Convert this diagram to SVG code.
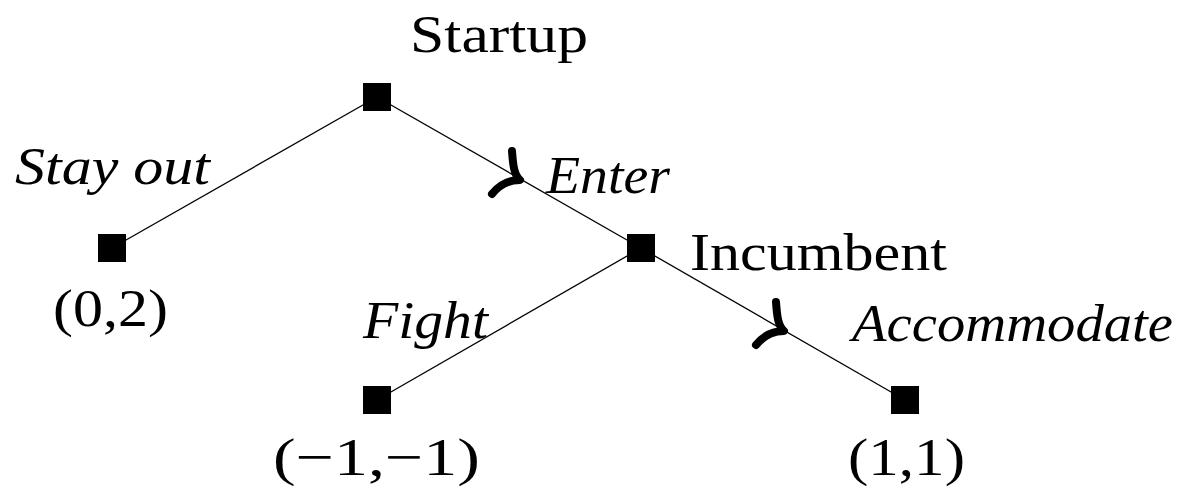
<svg xmlns="http://www.w3.org/2000/svg" width="1183" height="492" viewBox="0 0 1183 492">
<style>
.edge{stroke:#000;stroke-width:1.3;fill:none}
.mark{stroke:#000;stroke-width:8;fill:none;stroke-linecap:round;stroke-linejoin:round}
.node{fill:#000}
.lbl{font-family:"Liberation Serif","DejaVu Serif",serif;font-size:53px;fill:#000}
.act{font-family:"Liberation Serif","DejaVu Serif",serif;font-size:52px;font-style:italic;fill:#000}
</style>
<defs>
<path id="pref" class="mark" d="M0,-29 C1,-15 2,-5 8,0 C-2,0 -12,4 -20,14"/>
</defs>
<g id="connectors">
<line class="edge" x1="377" y1="97" x2="112" y2="248"/>
<line class="edge" x1="377" y1="97" x2="641" y2="248"/>
<line class="edge" x1="641" y1="248" x2="377" y2="400"/>
<line class="edge" x1="641" y1="248" x2="905" y2="400"/>
<use href="#pref" x="512" y="180"/>
<use href="#pref" x="776" y="331"/>
</g>
<g id="startup">
<rect class="node" x="363" y="83" width="28" height="28"/>
<text class="lbl" x="410" y="52" textLength="178" lengthAdjust="spacingAndGlyphs">Startup</text>
</g>
<g id="stayout">
<rect class="node" x="98" y="234" width="28" height="28"/>
<text class="act" x="15" y="184" textLength="195" lengthAdjust="spacingAndGlyphs">Stay out</text>
<text class="lbl" x="53" y="326" textLength="115" lengthAdjust="spacingAndGlyphs">(0,2)</text>
</g>
<g id="incumbent">
<rect class="node" x="627" y="234" width="28" height="28"/>
<text class="act" x="546" y="193" textLength="124" lengthAdjust="spacingAndGlyphs">Enter</text>
<text class="lbl" x="690" y="270" textLength="257" lengthAdjust="spacingAndGlyphs">Incumbent</text>
</g>
<g id="fight">
<rect class="node" x="363" y="386" width="28" height="28"/>
<text class="act" x="363" y="338" textLength="125" lengthAdjust="spacingAndGlyphs">Fight</text>
<text class="lbl" x="273" y="475" textLength="207" lengthAdjust="spacingAndGlyphs">(−1,−1)</text>
</g>
<g id="accommodate">
<rect class="node" x="891" y="386" width="28" height="28"/>
<text class="act" x="852" y="341" textLength="321" lengthAdjust="spacingAndGlyphs">Accommodate</text>
<text class="lbl" x="848" y="475" textLength="117" lengthAdjust="spacingAndGlyphs">(1,1)</text>
</g>
</svg>
